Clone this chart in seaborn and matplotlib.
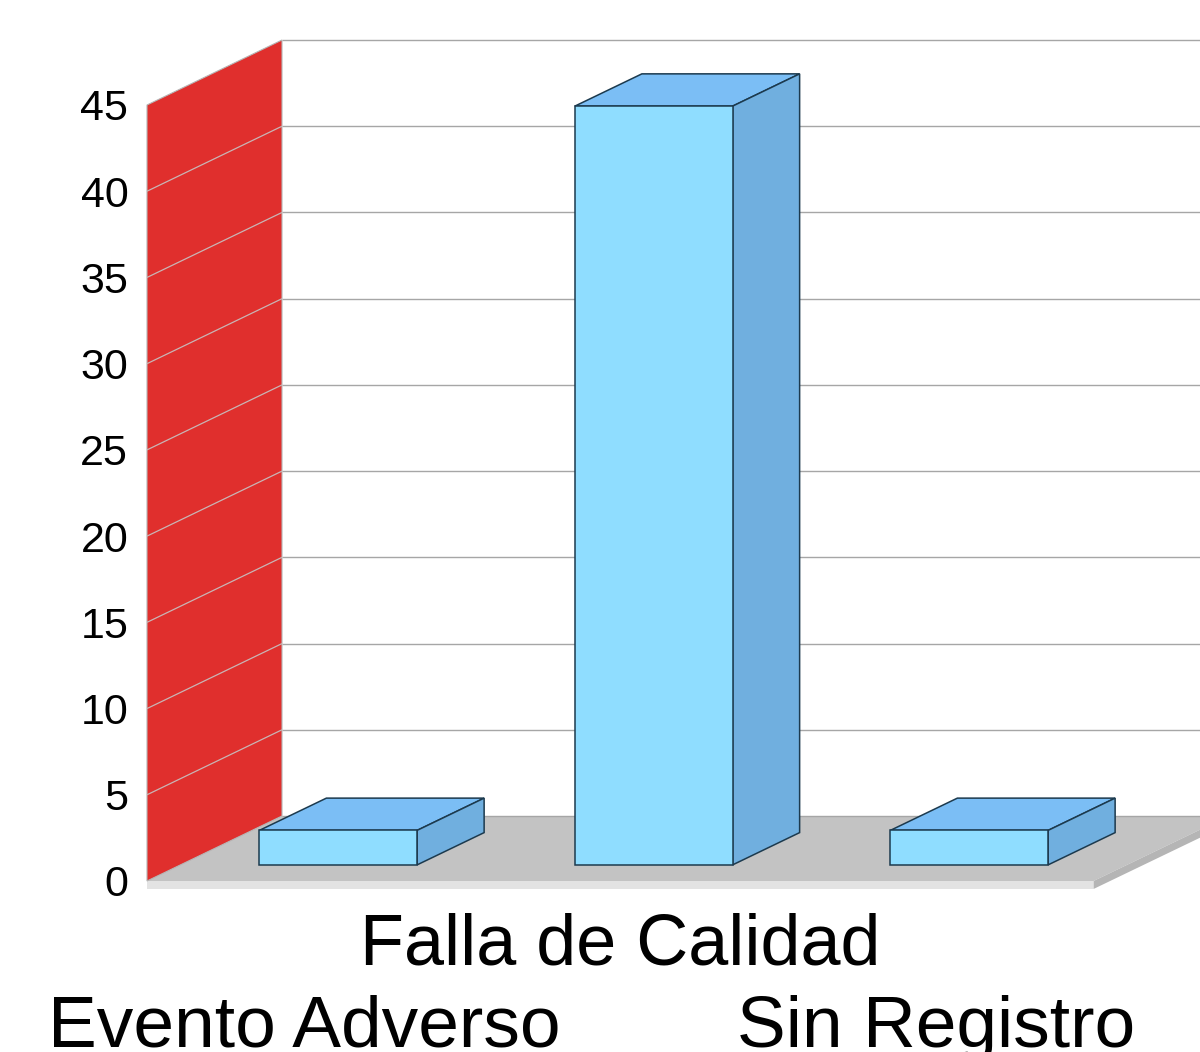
import numpy as np
import pandas as pd
import matplotlib
matplotlib.use("Agg")
import matplotlib.pyplot as plt
import seaborn as sns
from matplotlib.patches import Polygon
from matplotlib.transforms import IdentityTransform

categorias = ["Evento Adverso", "Falla de Calidad", "Sin Registro"]
valores = [2, 44, 2]
ticks_y = [0, 5, 10, 15, 20, 25, 30, 35, 40, 45]

sns.set_theme(style="white")
plt.rcParams["font.family"] = ["Liberation Sans", "DejaVu Sans"]

df = pd.DataFrame({"categoria": categorias, "valor": valores})

fig = plt.figure(figsize=(12, 10.52), dpi=100, facecolor="white")
ax = fig.add_axes([147 / 1200, 1 - 881 / 1052, 946.5 / 1200, 776 / 1052])

sns.barplot(data=df, x="categoria", y="valor", width=0.5, color="#8FDDFF",
            saturation=1, edgecolor="#1C3A4E", linewidth=1.1, ax=ax, zorder=6)

ax.set_xlim(-0.5, 2.5)
ax.set_ylim(0, 45)
ax.set_xlabel("")
ax.set_ylabel("")
ax.set_yticks(ticks_y)
ax.patch.set_visible(False)
sns.despine(ax=ax, left=True, bottom=True, right=True, top=True)
ax.tick_params(axis="y", length=0, pad=13.5, labelsize=31, labelcolor="black")
ax.tick_params(axis="x", length=0, labelsize=52.7, labelcolor="black")

# profundidad de la perspectiva, en pixeles
prof = np.array([135.0, 65.0])
grosor = 8


def punto(x, y, d=0.0):
    return ax.transData.transform((x, y)) + d * prof


def cara(puntos, color, borde="none", lw=0.0, z=1):
    ax.add_patch(Polygon(puntos, closed=True, facecolor=color, edgecolor=borde,
                         linewidth=lw, transform=IdentityTransform(),
                         clip_on=False, zorder=z))


def linea(a, b, color, lw, z):
    ax.plot([a[0], b[0]], [a[1], b[1]], color=color, lw=lw, zorder=z,
            transform=IdentityTransform(), clip_on=False, solid_capstyle="butt")


# piso
abajo = np.array([0, -grosor])
cara([punto(-0.5, 0), punto(2.5, 0), punto(2.5, 0, 1), punto(-0.5, 0, 1)], "#C3C3C3", z=2)
cara([punto(-0.5, 0), punto(2.5, 0), punto(2.5, 0) + abajo, punto(-0.5, 0) + abajo], "#E3E3E3", z=2)
cara([punto(2.5, 0), punto(2.5, 0, 1), punto(2.5, 0, 1) + abajo, punto(2.5, 0) + abajo], "#B5B5B5", z=2)
linea(punto(-0.5, 0, 1), punto(2.5, 0, 1), "#A6A6A6", 1.0, 2.5)

# pared roja
cara([punto(-0.5, 0), punto(-0.5, 45), punto(-0.5, 45, 1), punto(-0.5, 0, 1)], "#E02F2D",
     borde="#B5B5B5", lw=0.8, z=3)

# grilla
for t in ticks_y:
    if t > 0:
        linea(punto(-0.5, t, 1), punto(2.5, t, 1), "#A6A6A6", 1.0, 1)
    if 0 < t < 45:
        linea(punto(-0.5, t), punto(-0.5, t, 1), "#C9B5B5", 0.9, 4)

# barras: cara frontal del barplot, mas tapa y lateral
d1 = 33.5 / 135
d2 = 100.5 / 135
for p in ax.patches[:len(valores)]:
    x0 = p.get_x()
    x1 = x0 + p.get_width()
    h = p.get_height()
    if not isinstance(p, Polygon):
        cara([punto(x0, h, d1), punto(x1, h, d1), punto(x1, h, d2), punto(x0, h, d2)],
             "#7BBEF5", borde="#1C3A4E", lw=1.1, z=5)
        cara([punto(x1, 0, d1), punto(x1, h, d1), punto(x1, h, d2), punto(x1, 0, d2)],
             "#70AFDF", borde="#1C3A4E", lw=1.1, z=5)
        p.set_transform(IdentityTransform())
        esq = punto(x0, 0, d1)
        p.set_xy(esq)
        p.set_width(punto(x1, 0)[0] - punto(x0, 0)[0])
        p.set_height(punto(x0, h)[1] - punto(x0, 0)[1])
        p.set_clip_on(False)

# etiquetas en dos filas
for i, tick in enumerate(ax.xaxis.get_major_ticks()):
    tick.set_pad(23 if i == 1 else 82)
ax.get_xticklabels()[1].set_fontsize(51.8)

fig.savefig("out.png", dpi=100)
